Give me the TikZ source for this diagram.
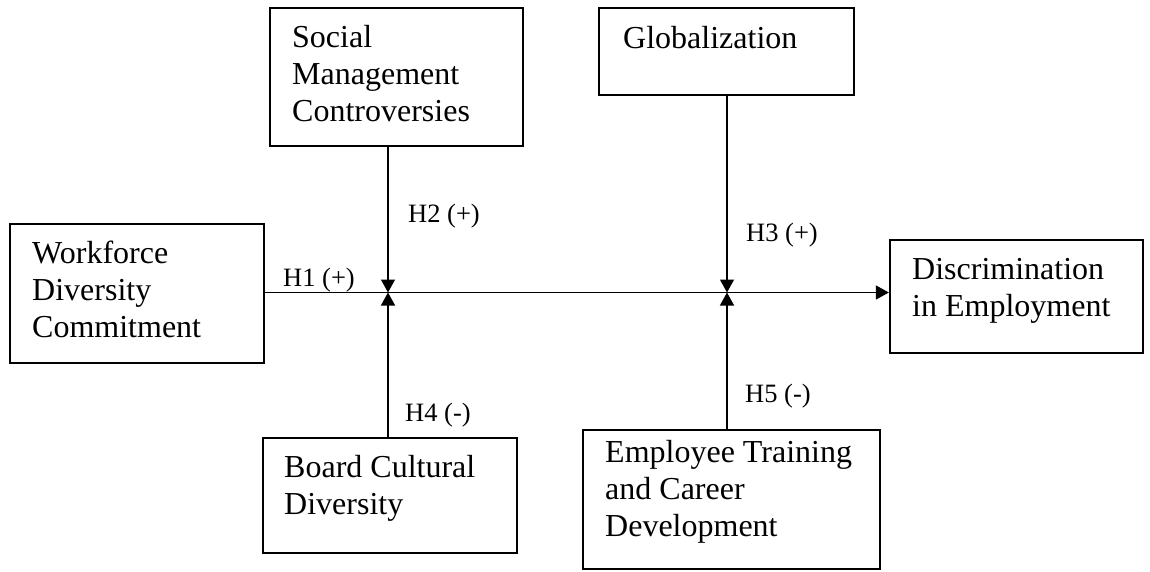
\documentclass[tikz,border=0pt]{standalone}
\usepackage{fontspec}
\setmainfont{Liberation Serif}
\usetikzlibrary{arrows.meta}

\begin{document}
\begin{tikzpicture}[x=1pt,y=-1pt,
  box/.style={draw,line width=2.3pt,inner sep=0pt},
  txt/.style={anchor=north west,align=left,inner sep=0pt,font=\fontsize{32}{37}\selectfont},
  hyp/.style={anchor=base west,inner sep=0pt,font=\fontsize{26.5}{30}\selectfont},
  conn/.style={line width=1.3pt,-{Triangle[length=13pt,width=14pt]}}]

\useasboundingbox (0,0) rectangle (1150,571);

% Boxes
\node[box,minimum width=253pt,minimum height=138pt] (smc) at (396.5,77) {};
\node[box,minimum width=255pt,minimum height=87pt] (glob) at (726.5,51.5) {};
\node[box,minimum width=254pt,minimum height=139pt] (wdc) at (137,293.5) {};
\node[box,minimum width=253pt,minimum height=113pt] (dis) at (1016.5,296.5) {};
\node[box,minimum width=254pt,minimum height=115pt] (bcd) at (390,495.5) {};
\node[box,minimum width=297pt,minimum height=139pt] (etcd) at (731.5,499.5) {};

% Box texts
\node[txt] (smc-t) at (292,25) {Social\\Management\\Controversies};
\node[txt] (glob-t) at (623,26) {Globalization};
\node[txt] (wdc-t) at (32,241) {Workforce\\Diversity\\Commitment};
\node[txt] (dis-t) at (912,258) {Discrimination\\in Employment};
\node[txt] (bcd-t) at (284,455) {Board Cultural\\Diversity};
\node[txt] (etcd-t) at (605,440) {Employee Training\\and Career\\Development};

% Junctions on the main path
\coordinate (j1) at (388,292.5);
\coordinate (j2) at (727,292.5);

% Arrows
\draw[conn] (wdc.east |- j1) -- (dis.west |- j1);
\draw[conn] (smc.south -| j1) -- (j1);
\draw[conn] (bcd.north -| j1) -- (j1);
\draw[conn] (glob.south -| j2) -- (j2);
\draw[conn] (etcd.north -| j2) -- (j2);

% Hypotheses
\node[hyp] (h1) at (283,286) {H1 (+)};
\node[hyp] (h2) at (408,222) {H2 (+)};
\node[hyp] (h3) at (746,241) {H3 (+)};
\node[hyp] (h4) at (405,421) {H4 (-)};
\node[hyp] (h5) at (745,402) {H5 (-)};

\end{tikzpicture}
\end{document}
